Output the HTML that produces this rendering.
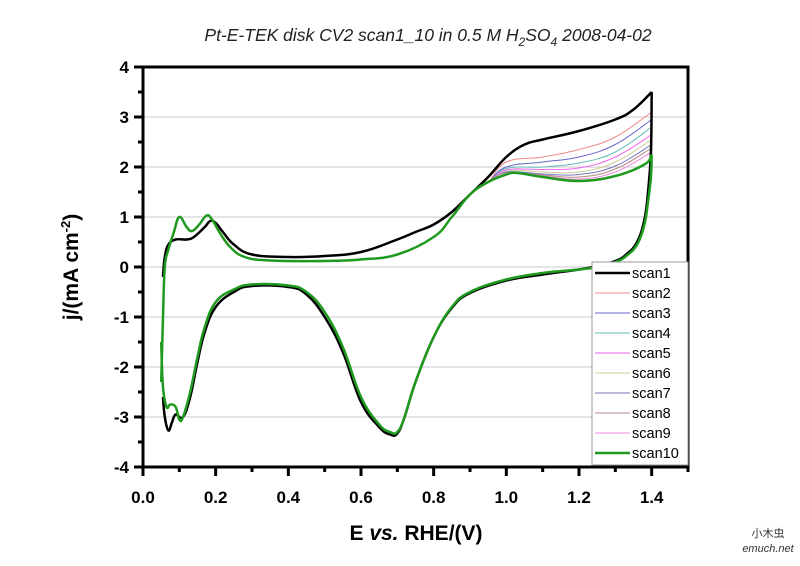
<!DOCTYPE html>
<html><head><meta charset="utf-8"><style>
body{margin:0;background:#fff;width:800px;height:561px;overflow:hidden;font-family:"Liberation Sans",Arial,sans-serif}
</style></head><body>
<svg id="chart" width="800" height="561" xmlns="http://www.w3.org/2000/svg" font-family="Liberation Sans, Arial, sans-serif">
<g id="grid"></g>
<g id="series"></g>
<rect x="143" y="67" width="545" height="400" fill="none" stroke="#000" stroke-width="3"/>
<g id="axes"></g>
<text x="428" y="41" text-anchor="middle" font-size="17.5" font-style="italic" fill="#222">Pt-E-TEK disk CV2 scan1_10 in 0.5 M H<tspan font-size="12" dy="5">2</tspan><tspan dy="-5">SO</tspan><tspan font-size="12" dy="5">4</tspan><tspan dy="-5"> 2008-04-02</tspan></text>
<text x="416" y="540" text-anchor="middle" font-size="21" font-weight="bold">E <tspan font-style="italic">vs.</tspan> RHE/(V)</text>
<text transform="translate(78,267) rotate(-90)" text-anchor="middle" font-size="21" font-weight="bold">j/(mA cm<tspan font-size="13" dy="-8">-2</tspan><tspan dy="8">)</tspan></text>
<g id="legend"></g>
<text x="768" y="537" text-anchor="middle" font-size="11" fill="#333" font-family="Liberation Sans, Noto Sans CJK SC, sans-serif">小木虫</text>
<text x="768" y="552" text-anchor="middle" font-size="11" font-style="italic" fill="#333">emuch.net</text>
</svg>
<script>
const xTicks=[0.0,0.2,0.4,0.6,0.8,1.0,1.2,1.4];
const yTicks=[-4,-3,-2,-1,0,1,2,3,4];
const scanNames=["scan1","scan2","scan3","scan4","scan5","scan6","scan7","scan8","scan9","scan10"];
// scan1 full cycle
const s1AnodicE=[0.055,0.06,0.07,0.09,0.12,0.14,0.17,0.185,0.2,0.22,0.25,0.3,0.4,0.5,0.6,0.7,0.75,0.8,0.85,0.9,0.95,1.0,1.05,1.1,1.2,1.3,1.35,1.4];
const s1AnodicJ=[-0.2,0.2,0.45,0.55,0.55,0.6,0.8,0.92,0.88,0.7,0.45,0.25,0.2,0.22,0.3,0.55,0.7,0.85,1.1,1.45,1.8,2.2,2.45,2.55,2.72,2.95,3.15,3.5];
const s1CathE=[1.4,1.398,1.39,1.38,1.36,1.33,1.3,1.25,1.2,1.1,1.0,0.9,0.85,0.8,0.75,0.72,0.7,0.68,0.65,0.6,0.55,0.5,0.45,0.4,0.3,0.25,0.2,0.17,0.15,0.13,0.11,0.09,0.08,0.07,0.06,0.055];
const s1CathJ=[3.5,2.3,1.5,0.95,0.5,0.25,0.12,0.02,-0.05,-0.15,-0.27,-0.52,-0.82,-1.4,-2.3,-3.0,-3.33,-3.35,-3.2,-2.7,-1.7,-1.0,-0.55,-0.4,-0.38,-0.5,-0.8,-1.3,-1.9,-2.6,-3.0,-2.95,-3.1,-3.27,-3.0,-2.6];
// scan10 full cycle
const s10AnodicE=[0.05,0.055,0.06,0.07,0.085,0.1,0.12,0.135,0.155,0.175,0.19,0.21,0.24,0.28,0.35,0.5,0.6,0.7,0.8,0.85,0.9,0.95,1.0,1.03,1.1,1.2,1.3,1.38,1.4];
const s10AnodicJ=[-2.3,-1.0,0.0,0.35,0.7,1.0,0.8,0.72,0.85,1.03,0.95,0.7,0.4,0.2,0.13,0.12,0.15,0.25,0.6,1.0,1.45,1.7,1.85,1.88,1.8,1.72,1.82,2.05,2.25];
const s10CathE=[1.4,1.398,1.39,1.38,1.36,1.33,1.3,1.25,1.2,1.1,1.0,0.9,0.85,0.8,0.75,0.72,0.7,0.68,0.65,0.6,0.55,0.5,0.45,0.4,0.3,0.25,0.2,0.17,0.15,0.13,0.11,0.1,0.09,0.075,0.065,0.055,0.05];
const s10CathJ=[2.25,1.8,1.3,0.85,0.45,0.22,0.1,0.0,-0.05,-0.12,-0.25,-0.5,-0.8,-1.4,-2.3,-3.0,-3.3,-3.3,-3.15,-2.6,-1.6,-0.9,-0.5,-0.37,-0.35,-0.45,-0.7,-1.2,-1.8,-2.5,-3.0,-3.05,-2.8,-2.75,-2.8,-2.4,-1.5];
// scans 2-9 oxide region (E = 1.0,1.1,1.2,1.3,1.4)
const oxideE=[1.0,1.1,1.2,1.3,1.4];
const s2J=[2.1,2.2,2.35,2.6,3.1];
const s3J=[2.0,2.1,2.2,2.45,2.95];
const s4J=[1.97,2.0,2.08,2.3,2.8];
const s5J=[1.94,1.95,1.98,2.2,2.65];
const s6J=[1.92,1.9,1.9,2.1,2.55];
const s7J=[1.9,1.86,1.85,2.02,2.45];
const s8J=[1.89,1.84,1.8,1.96,2.38];
const s9J=[1.88,1.82,1.76,1.9,2.3];
const colors=["#000","#e88","#66c","#6bb","#e6e","#cc9","#77b","#b88","#e8d","#1f9a1f"];
const widths=[2.5,1,1,1,1,1,1,1,1,2.5];

const NS="http://www.w3.org/2000/svg";
const X0=143,X1=688,Y0=467,Y1=67;
function sx(v){return X0+(v-0)/(1.5-0)*(X1-X0);}
function sy(v){return Y0-(v+4)/8*(Y0-Y1);}
function mk(t,a,p){const e=document.createElementNS(NS,t);for(const k in a)e.setAttribute(k,a[k]);p.appendChild(e);return e;}

const grid=document.getElementById('grid'),axes=document.getElementById('axes');
yTicks.forEach(v=>{
  if(v>-4&&v<4){const g=mk('line',{x1:X0,x2:X1,y1:sy(v),y2:sy(v),stroke:'#c8c8c8','stroke-width':1},grid);
  
  }
  const t=mk('line',{x1:X0-9,x2:X0,y1:sy(v),y2:sy(v),stroke:'#000','stroke-width':3},axes);
  
  
  if(v<4){const m=mk('line',{x1:X0-5,x2:X0,y1:sy(v+0.5),y2:sy(v+0.5),stroke:'#000','stroke-width':3},axes);
  
  }
  const l=mk('text',{x:X0-14,y:sy(v)+6,'text-anchor':'end','font-size':17,'font-weight':'bold'},axes);
  l.textContent=v;
  
  
});
xTicks.forEach(v=>{
  const t=mk('line',{x1:sx(v),x2:sx(v),y1:Y0,y2:Y0+9,stroke:'#000','stroke-width':3},axes);
  
  
  const m=mk('line',{x1:sx(v+0.1),x2:sx(v+0.1),y1:Y0,y2:Y0+5,stroke:'#000','stroke-width':3},axes);
  
  
  const l=mk('text',{x:sx(v),y:Y0+36,'text-anchor':'middle','font-size':17,'font-weight':'bold'},axes);
  l.textContent=v.toFixed(1);
  
  
});

function pts(E,J){return E.map((e,i)=>[sx(e),sy(J[i])]);}
function smooth(P){
  let d='M'+P[0][0].toFixed(1)+','+P[0][1].toFixed(1);
  for(let i=0;i<P.length-1;i++){
    const p0=P[Math.max(0,i-1)],p1=P[i],p2=P[i+1],p3=P[Math.min(P.length-1,i+2)];
    const t=0.2;
    const c1=[p1[0]+(p2[0]-p0[0])*t,p1[1]+(p2[1]-p0[1])*t];
    const c2=[p2[0]-(p3[0]-p1[0])*t,p2[1]-(p3[1]-p1[1])*t];
    d+=' C'+c1[0].toFixed(1)+','+c1[1].toFixed(1)+' '+c2[0].toFixed(1)+','+c2[1].toFixed(1)+' '+p2[0].toFixed(1)+','+p2[1].toFixed(1);
  }
  return d;
}
const mids=[s2J,s3J,s4J,s5J,s6J,s7J,s8J,s9J];
const seriesPaths=[];
seriesPaths[0]=smooth(pts(s1AnodicE,s1AnodicJ))+' '+smooth(pts(s1CathE,s1CathJ));
mids.forEach((arr,k)=>{
  const aE=[],aJ=[];
  s10AnodicE.forEach((e,i)=>{if(e<0.99){aE.push(e);aJ.push(s10AnodicJ[i]);}});
  const cJ=s10CathJ.slice();cJ[0]=arr[arr.length-1];
  seriesPaths[k+1]=smooth(pts(aE,aJ).concat(pts(oxideE,arr)))+' '+smooth(pts(s10CathE,cJ));
});
seriesPaths[9]=smooth(pts(s10AnodicE,s10AnodicJ))+' '+smooth(pts(s10CathE,s10CathJ));
const sg=document.getElementById('series');
[8,7,6,5,4,3,2,1,0,9].forEach(i=>{
  const p=mk('path',{d:seriesPaths[i],fill:'none',stroke:colors[i],'stroke-width':widths[i],'stroke-linejoin':'round'},sg);
  
  
});
const lg=document.getElementById('legend');
const box=mk('rect',{x:592,y:262,width:96,height:203,fill:'#fff',stroke:'#999','stroke-width':1},lg);


scanNames.forEach((n,i)=>{
  const y=273+i*20;
  const ln=mk('line',{x1:595,x2:630,y1:y,y2:y,stroke:colors[i],'stroke-width':widths[i]},lg);
  
  
  const t=mk('text',{x:632,y:y+5,'font-size':14.5},lg);
  t.textContent=n;
  
  
});
</script>
</body></html>
